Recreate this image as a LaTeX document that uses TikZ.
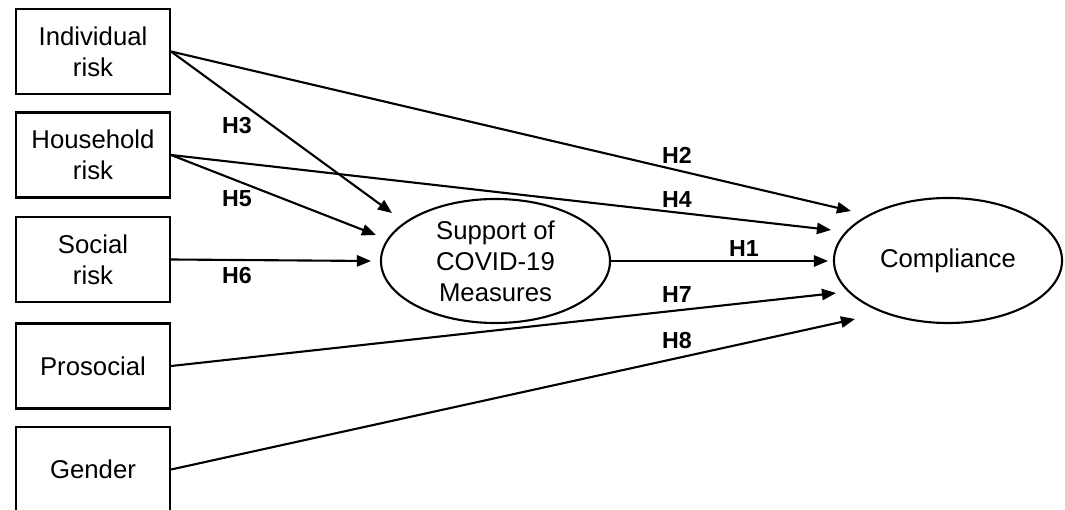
\documentclass[tikz,border=0pt]{standalone}
\usepackage{fontspec}
\setmainfont{Liberation Sans}
\usetikzlibrary{shapes.geometric,arrows.meta}
\tikzset{
  factor/.style={draw, line width=1.5pt, minimum width=3.85cm, minimum height=2.125cm,
    align=center, font=\fontsize{18.3}{22}\selectfont},
  latent/.style={draw, ellipse, line width=1.5pt, inner sep=0pt, align=center,
    font=\fontsize{18.3}{22}\selectfont},
  path/.style={line width=1.5pt, -{Triangle[length=10pt,width=8pt]}},
  hyp/.style={font=\fontsize{16.5}{18}\selectfont\bfseries}
}
\begin{document}
\begin{tikzpicture}[x=0.025cm, y=-0.025cm]
\useasboundingbox (0,0) rectangle (1065,510);
\clip (0,0) rectangle (1065,510);
% Predictors
\node[factor] (ind) at (93,51.5) {Individual\\risk};
\node[factor] (hh) at (93,155) {Household\\risk};
\node[factor] (soc) at (93,259.5) {Social\\risk};
\node[factor] (pro) at (93,366) {Prosocial};
\node[factor] (gen) at (93,469.5) {Gender};
% Mediator and outcome
\node[latent, minimum width=5.725cm, minimum height=3.1cm] (sup) at (495.5,261) {Support of\\COVID-19\\Measures};
\node[latent, minimum width=5.7cm, minimum height=3.125cm] (comp) at (948,260.5) {Compliance};
% Arrow tips
\coordinate (t3) at (392,213);
\coordinate (t5) at (376,235);
\coordinate (t6) at (371,261);
\coordinate (t2) at (851,211);
\coordinate (t4) at (831,230);
\coordinate (t1) at (828,261);
\coordinate (t7) at (836,293);
\coordinate (t8) at (855,319);
% Paths
\draw[path] (ind.east) -- (t3);
\draw[path] (ind.east) -- (t2);
\draw[path] (hh.east) -- (t5);
\draw[path] (hh.east) -- (t4);
\draw[path] (soc.east) -- (t6);
\draw[path] (sup.east) -- (t1);
\draw[path] (pro.east) -- (t7);
\draw[path] (gen.east) -- (t8);
% Hypothesis labels
\node[hyp] (h3) at (237,126) {H3};
\node[hyp] (h5) at (237,199) {H5};
\node[hyp] (h6) at (237,276) {H6};
\node[hyp] (h2) at (677,155) {H2};
\node[hyp] (h4) at (677,200) {H4};
\node[hyp] (h1) at (744,249) {H1};
\node[hyp] (h7) at (677,295) {H7};
\node[hyp] (h8) at (677,341) {H8};
\end{tikzpicture}
\end{document}
